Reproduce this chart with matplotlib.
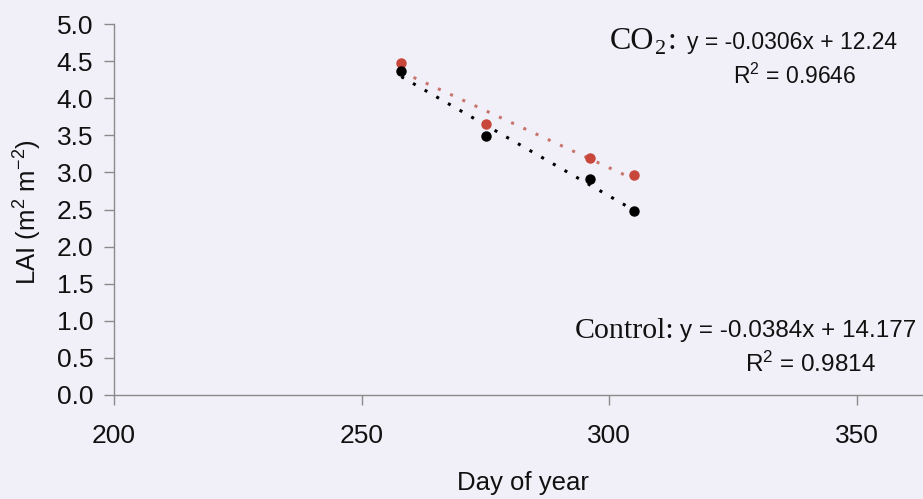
import numpy as np
import matplotlib
matplotlib.use("Agg")
import matplotlib.pyplot as plt

# values
days = [258, 275, 296, 305]
lai_co2 = [4.47, 3.65, 3.20, 2.96]
lai_control = [4.37, 3.49, 2.91, 2.48]

x_ticks = [200, 250, 300, 350]
y_ticks = [0.0, 0.5, 1.0, 1.5, 2.0, 2.5, 3.0, 3.5, 4.0, 4.5, 5.0]

co2_eq = "y = -0.0306x + 12.24"
co2_r2 = "R$^{2}$ = 0.9646"
ctrl_eq = "y = -0.0384x + 14.177"
ctrl_r2 = "R$^{2}$ = 0.9814"

plt.rcParams['font.family'] = ['Liberation Sans', 'DejaVu Sans']
plt.rcParams['mathtext.fontset'] = 'custom'
plt.rcParams['mathtext.rm'] = 'Liberation Sans'
plt.rcParams['mathtext.it'] = 'Liberation Sans:italic'

W, H = 923, 499
bg = '#f1f0f9'
ink = '#111111'
fig = plt.figure(figsize=(W / 100, H / 100), dpi=100, facecolor=bg)
ax = fig.add_axes([114 / W, 1 - 395 / H, 1 - 114 / W, (395 - 24) / H])
ax.set_facecolor(bg)

red = '#c9463a'
red_line = '#c8756c'

# trend lines from least squares fit, drawn between first and last day
xs = np.array([days[0], days[-1]])
p_co2 = np.polyfit(days, lai_co2, 1)
p_ctrl = np.polyfit(days, lai_control, 1)
ax.plot(xs, np.polyval(p_co2, xs), color=red_line, lw=2.2, ls=(0, (1, 3.4)), zorder=2)
ax.plot(xs, np.polyval(p_ctrl, xs), color='black', lw=2.2, ls=(0, (1, 3.4)), zorder=2)

ax.plot(days, lai_co2, 'o', color=red, ms=6.5, mec=red, zorder=3)
ax.plot(days, lai_control, 'o', color='black', ms=6.5, zorder=3)

ax.set_xlim(200, 200 + (W - 114) / 4.954)
ax.set_ylim(0, 5)
ax.set_xticks(x_ticks)
ax.set_yticks(y_ticks)
ax.set_yticklabels([f"{v:.1f}" for v in y_ticks])

for s in ['top', 'right']:
    ax.spines[s].set_visible(False)
for s in ['left', 'bottom']:
    ax.spines[s].set_color('#8a8a8a')
    ax.spines[s].set_linewidth(1.0)

ax.tick_params(axis='both', direction='out', length=7, width=1.0,
               color='#8a8a8a', labelsize=19, labelcolor=ink)
ax.tick_params(axis='y', pad=8)
ax.tick_params(axis='x', pad=14)

fig.text(28 / W, 1 - 212 / H, "LAI (m$^{2}$ m$^{-2}$)", rotation=90,
         ha='center', va='center', fontsize=18.5, color=ink)
fig.text(523 / W, 1 - 483 / H, "Day of year", ha='center', va='center',
         fontsize=18.5, color=ink)

serif = ['Liberation Serif', 'DejaVu Serif']
fig.text(610 / W, 1 - 49 / H, "CO", family=serif, fontsize=23,
         ha='left', va='baseline', color=ink)
fig.text(655 / W, 1 - 54 / H, "2", family=serif, fontsize=16,
         ha='left', va='baseline', color=ink)
fig.text(668 / W, 1 - 49 / H, ":", family=serif, fontsize=23,
         ha='left', va='baseline', color=ink)
fig.text(687 / W, 1 - 49 / H, co2_eq, fontsize=16.5, ha='left', va='baseline',
         color=ink)
fig.text(733 / W, 1 - 84 / H, co2_r2, fontsize=16.5, ha='left', va='baseline',
         color=ink)

fig.text(575 / W, 1 - 338 / H, "Control:", family=serif, fontsize=21.5,
         ha='left', va='baseline', color=ink)
fig.text(680 / W, 1 - 337 / H, ctrl_eq, fontsize=17.5, ha='left', va='baseline',
         color=ink)
fig.text(745 / W, 1 - 372 / H, ctrl_r2, fontsize=17.5, ha='left', va='baseline',
         color=ink)

fig.savefig("out.png", dpi=100, facecolor=bg)
